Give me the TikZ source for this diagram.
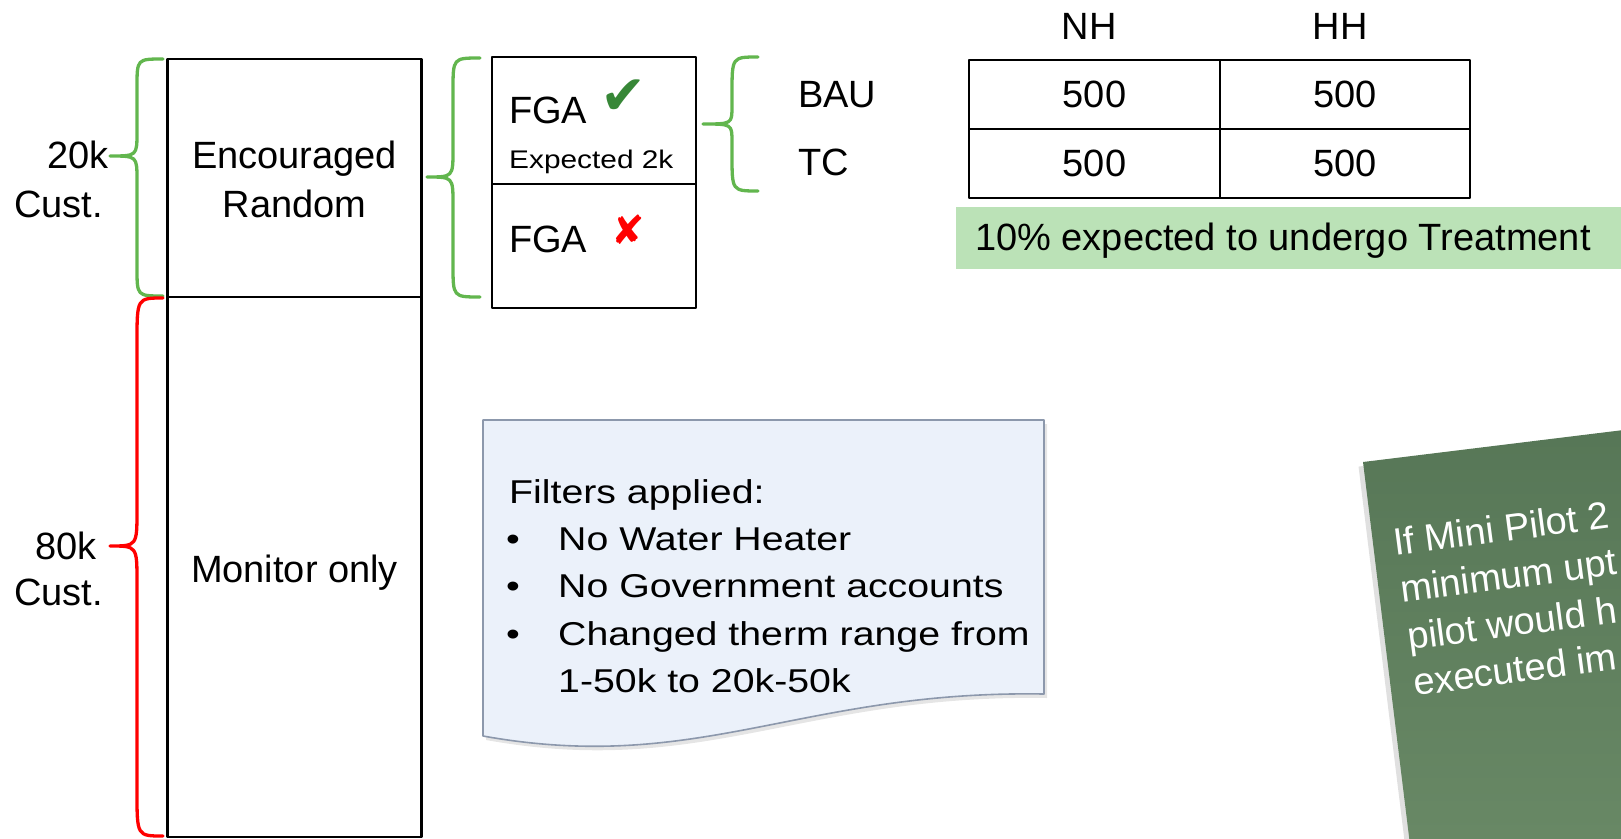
\documentclass[tikz,border=0pt]{standalone}
\usepackage{fontspec}
\setmainfont{Liberation Sans}
\newfontfamily\symfont{DejaVu Sans}
\definecolor{bracegreen}{RGB}{98,182,78}
\definecolor{bracered}{RGB}{255,0,0}
\definecolor{checkgreen}{RGB}{55,135,55}
\definecolor{labelgreen}{RGB}{187,226,183}
\definecolor{docfill}{RGB}{235,241,250}
\definecolor{docborder}{RGB}{140,152,172}
\definecolor{stickytop}{RGB}{86,118,86}
\definecolor{stickybot}{RGB}{110,142,106}
\newcommand{\mybrace}[9]{%
  \draw[brace,#1] ({#2},{#5}) .. controls ({#3},{#5}) .. ({#3},{#5+#8})
    -- ({#3},{#6-#9}) .. controls ({#3},{#6}) .. ({#4},{#6})
    .. controls ({#3},{#6}) .. ({#3},{#6+#9})
    -- ({#3},{#7-#8}) .. controls ({#3},{#7}) .. ({#2},{#7});}
\newcommand{\dtxt}[1]{\scalebox{1.19}[1]{#1}}
\begin{document}
\begin{tikzpicture}[x=1pt,y=-1pt,line join=round]
\tikzset{
  txt/.style={inner sep=0pt, font=\fontsize{38}{44}\selectfont},
  doctxt/.style={inner sep=0pt, font=\fontsize{33}{40}\selectfont},
  smalltxt/.style={inner sep=0pt, font=\fontsize{25.5}{30}\selectfont},
  stickytxt/.style={inner sep=0pt, text=white, rotate=7.5, font=\fontsize{38}{44}\selectfont},
  cell/.style={draw=black, line width=2.2pt, inner sep=0pt, font=\fontsize{38}{44}\selectfont},
  brace/.style={line width=3.3pt, line cap=round},
}
\useasboundingbox (0,0) rectangle (1621,838);
\clip (0,0) rectangle (1621,838);

% left column
\node[cell, minimum width=254pt, minimum height=238pt] (enc) at (294.5,178) {};
\node[cell, minimum width=254pt, minimum height=540pt] (mon) at (294.5,567) {};
\node[txt, anchor=base] (enc1) at (294.5,168) {Encouraged};
\node[txt, anchor=base] (enc2) at (294.5,217) {Random};
\node[txt, anchor=base] (mont) at (294.5,582) {Monitor only};

% left braces and labels
\mybrace{bracegreen}{163}{137}{110}{59}{156}{296}{28}{24}
\mybrace{bracered}{163}{137}{110}{298}{546}{836}{44}{36}
\node[txt, anchor=base west] (n20k) at (47,168) {20k};
\node[txt, anchor=base west] (c20k) at (14,217) {Cust.};
\node[txt, anchor=base west] (n80k) at (35,559) {80k};
\node[txt, anchor=base west] (c80k) at (14,605) {Cust.};

% FGA box
\mybrace{bracegreen}{480}{453}{427}{58}{177}{297}{32}{27}
\node[cell, minimum width=204pt, minimum height=127pt] (fga1) at (594,120.5) {};
\node[cell, minimum width=204pt, minimum height=124pt] (fga2) at (594,246) {};
\node[txt, anchor=base west] (fga1t) at (509,123) {FGA};
\node[smalltxt, anchor=base west] (exp) at (509,168) {\scalebox{1.17}[1]{Expected 2k}};
\node[txt, anchor=base west] (fga2t) at (509,252) {FGA};
\node[inner sep=0pt, text=checkgreen, font=\symfont\fontsize{55}{55}\selectfont] (chk) at (623.5,97) {✔};
\node[inner sep=0pt, text=bracered, font=\symfont\fontsize{40}{40}\selectfont] (crs) at (628.5,229.5) {✘};

% BAU / TC
\mybrace{bracegreen}{758}{732}{703}{57}{124}{191}{36}{18}
\node[txt, anchor=base west] (bau) at (798,107) {BAU};
\node[txt, anchor=base west] (tc) at (798,175) {TC};

% table
\node[txt, anchor=base] (nh) at (1089,39) {NH};
\node[txt, anchor=base] (hh) at (1340,39) {HH};
\node[cell, minimum width=251pt, minimum height=69.3pt] (t11) at (1094.5,94.65) {500};
\node[cell, minimum width=250pt, minimum height=69.3pt] (t12) at (1345,94.65) {500};
\node[cell, minimum width=251pt, minimum height=69pt] (t21) at (1094.5,163.8) {500};
\node[cell, minimum width=250pt, minimum height=69pt] (t22) at (1345,163.8) {500};

% green label
\node[fill=labelgreen, anchor=north west, minimum width=700pt, minimum height=62pt, inner sep=0pt] (lbl) at (956,207) {};
\node[txt, anchor=base west] (lbltxt) at (975,250) {10\% expected to undergo Treatment};

% document shape
\fill[black!10] (486,424) -- (1047,424) -- (1047,698)
  .. controls (803,694) and (703,779) .. (486,740) -- cycle;
\draw[fill=docfill, draw=docborder, line width=1.6pt]
  (483,420) coordinate (dtl) -- (1044,420) -- (1044,694)
  .. controls (800,690) and (700,775) .. (483,736) -- cycle;
\node[doctxt, anchor=base west] (filt) at (509,503) {\dtxt{Filters applied:}};
\node[doctxt, anchor=base] (b1) at (513,550) {\dtxt{•}};
\node[doctxt, anchor=base] (b2) at (513,597.5) {\dtxt{•}};
\node[doctxt, anchor=base] (b3) at (513,645) {\dtxt{•}};
\node[doctxt, anchor=base west] (f1) at (558,550) {\dtxt{No Water Heater}};
\node[doctxt, anchor=base west] (f2) at (558,597.5) {\dtxt{No Government accounts}};
\node[doctxt, anchor=base west] (f3) at (558,645) {\dtxt{Changed therm range from}};
\node[doctxt, anchor=base west] (f4) at (558,692) {\dtxt{1-50k to 20k-50k}};

% sticky note
\begin{scope}[shift={(1363,462)}, rotate=7]
  \fill[black!12] (-5,4) rectangle (420,520);
  \shade[top color=stickytop, bottom color=stickybot] (0,0) rectangle (420,520);
\end{scope}
\node[stickytxt, anchor=base west] (s1) at (1395,556) {If Mini Pilot 2};
\node[stickytxt, anchor=base west] (s2) at (1402,603) {minimum upt};
\node[stickytxt, anchor=base west] (s3) at (1409,650) {pilot would h};
\node[stickytxt, anchor=base west] (s4) at (1415,696) {executed im};
\end{tikzpicture}
\end{document}
